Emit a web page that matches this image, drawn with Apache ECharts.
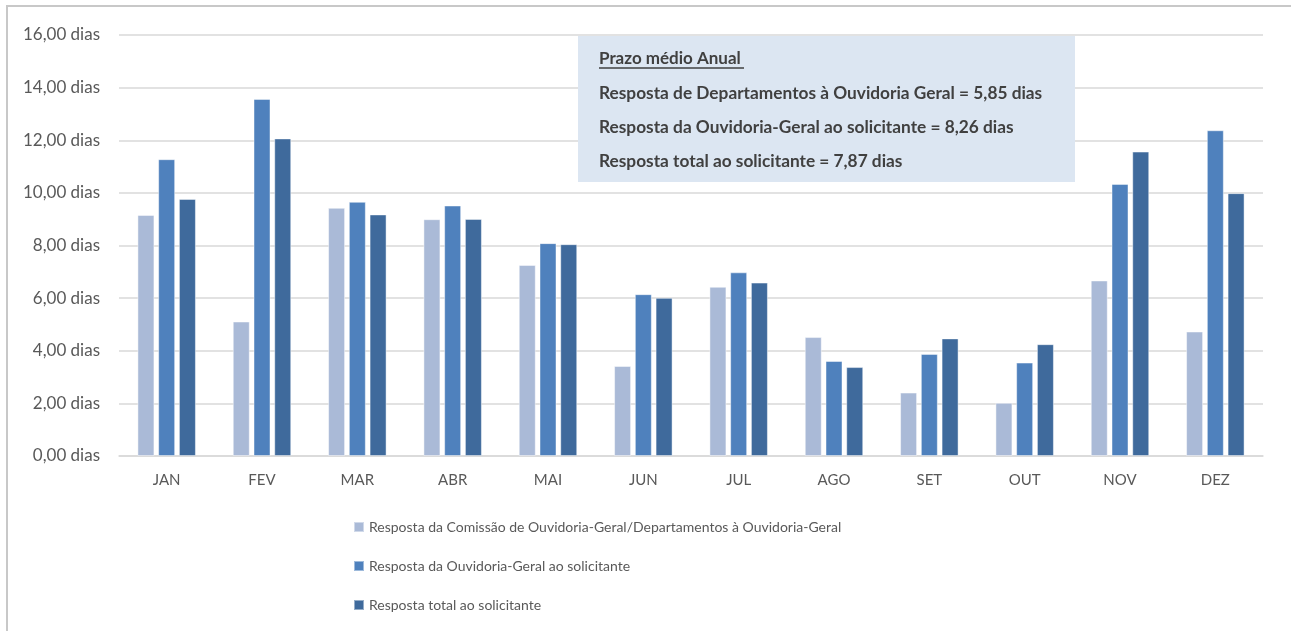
<!DOCTYPE html>
<html>
<head>
<meta charset="utf-8">
<script src="https://cdn.jsdelivr.net/npm/echarts@6/dist/echarts.min.js"></script>
<style>
  html, body { margin: 0; padding: 0; background: #fff; }
  #chart { width: 1291px; height: 631px; }
</style>
</head>
<body>
<div id="chart"></div>
<script>
// meses
const meses = ['JAN', 'FEV', 'MAR', 'ABR', 'MAI', 'JUN', 'JUL', 'AGO', 'SET', 'OUT', 'NOV', 'DEZ']

// prazos (dias)
const comissaoDepartamentos = [9.16, 5.11, 9.43, 9.00, 7.26, 3.42, 6.43, 4.52, 2.41, 2.02, 6.67, 4.73]
const ouvidoriaSolicitante = [11.28, 13.57, 9.66, 9.52, 8.09, 6.15, 6.98, 3.61, 3.88, 3.55, 10.34, 12.38]
const totalSolicitante = [9.77, 12.07, 9.18, 9.01, 8.05, 6.01, 6.59, 3.38, 4.47, 4.25, 11.57, 9.99]

const nomesSeries = [
  'Resposta da Comissão de Ouvidoria-Geral/Departamentos à Ouvidoria-Geral',
  'Resposta da Ouvidoria-Geral ao solicitante',
  'Resposta total ao solicitante'
]

// caixa de texto com os prazos médios anuais
const tituloCaixa = 'Prazo médio Anual'
const linhasCaixa = [
  'Resposta de Departamentos à Ouvidoria Geral = 5,85 dias',
  'Resposta da Ouvidoria-Geral ao solicitante = 8,26 dias',
  'Resposta total ao solicitante = 7,87 dias'
]

const cores = ['#AABAD7', '#4F81BD', '#3F6A9C']
const fonte = 'Lato, "Open Sans", sans-serif'

const myChart = echarts.init(document.getElementById('chart'))

const series = [comissaoDepartamentos, ouvidoriaSolicitante, totalSolicitante].map((data, i) => ({
  name: nomesSeries[i],
  type: 'bar',
  data: data,
  barWidth: 17,
  barGap: '22%',
  itemStyle: {
    color: cores[i],
    borderColor: 'rgba(255,255,255,0.45)',
    borderWidth: 1
  }
}))

const option = {
  animation: false,
  textStyle: { fontFamily: fonte },
  grid: {
    left: 119,
    right: 28,
    top: 35,
    bottom: 175
  },
  legend: {
    orient: 'vertical',
    left: 353,
    top: 520,
    padding: 0,
    itemWidth: 10,
    itemHeight: 10,
    itemGap: 25,
    icon: 'rect',
    textStyle: { fontSize: 14, color: '#595959', fontFamily: fonte },
    data: nomesSeries
  },
  xAxis: {
    type: 'category',
    data: meses,
    axisLine: { lineStyle: { color: '#D9D9D9', width: 1.5 } },
    axisTick: { show: false },
    axisLabel: { fontSize: 15, color: '#595959', margin: 17 }
  },
  yAxis: {
    type: 'value',
    min: 0,
    max: 16,
    interval: 2,
    axisLine: { show: false },
    axisTick: { show: false },
    splitLine: { lineStyle: { color: '#D9D9D9', width: 1.5 } },
    axisLabel: {
      fontSize: 17,
      color: '#595959',
      margin: 19,
      formatter: v => v.toFixed(2).replace('.', ',') + ' dias'
    }
  },
  graphic: [
    {
      // moldura do gráfico (só topo e esquerda ficam visíveis)
      type: 'polyline',
      shape: { points: [[7, 640], [7, 6], [1300, 6]] },
      style: { fill: null, stroke: '#C8C8C8', lineWidth: 2 },
      silent: true,
      z: -1
    },
    {
      type: 'group',
      left: 578,
      top: 36,
      z: 100,
      children: [
        {
          type: 'rect',
          z: 100,
          shape: { width: 497, height: 146 },
          style: { fill: '#DCE6F2' }
        },
        {
          type: 'text',
          z: 101,
          left: 21,
          top: 14,
          style: { text: tituloCaixa, font: 'bold 17px ' + fonte, fill: '#404040' }
        },
        {
          type: 'line',
          z: 101,
          shape: { x1: 21, y1: 32, x2: 166, y2: 32 },
          style: { stroke: '#404040', lineWidth: 1.3 }
        },
        ...linhasCaixa.map((t, i) => ({
          type: 'text',
          z: 101,
          left: 21,
          top: 49 + i * 34,
          style: { text: t, font: 'bold 17.3px ' + fonte, fill: '#404040' }
        }))
      ]
    }
  ],
  series: series
}

myChart.setOption(option)
</script>
</body>
</html>
